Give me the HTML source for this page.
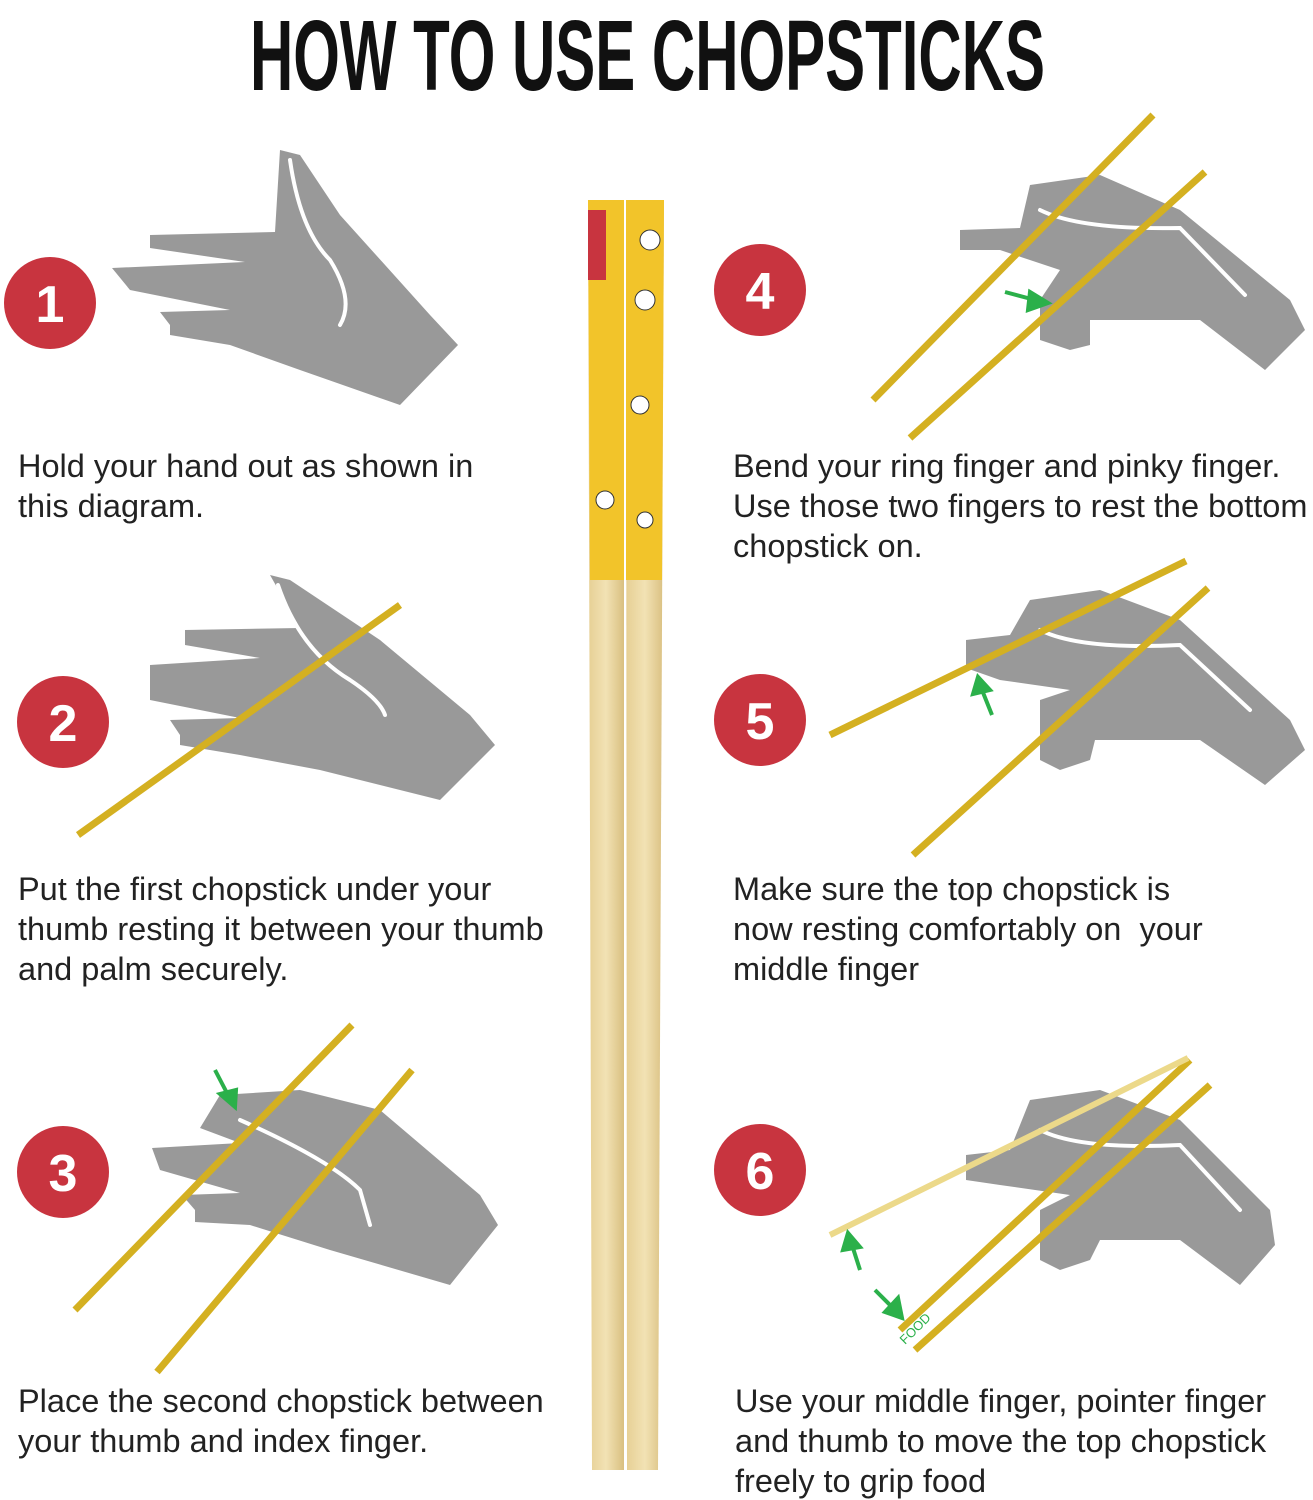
<!DOCTYPE html>
<html><head><meta charset="utf-8"><style>
body{margin:0;background:#fff;}
.w{position:relative;width:1313px;height:1500px;overflow:hidden;font-family:"Liberation Sans",sans-serif;}
.t{position:absolute;font-size:32.5px;line-height:40px;color:#222;white-space:nowrap;}
</style></head><body><div class="w">
<svg width="1313" height="1500" style="position:absolute;left:0;top:0">
<defs>
<linearGradient id="bam" x1="0" x2="1"><stop offset="0" stop-color="#e6cf94"/><stop offset="0.5" stop-color="#f2e2b4"/><stop offset="1" stop-color="#d9bf80"/></linearGradient>
</defs>
<text x="250" y="90" textLength="795" lengthAdjust="spacingAndGlyphs" font-family="Liberation Sans" font-weight="bold" font-size="100" fill="#111">HOW TO USE CHOPSTICKS</text>
<polygon points="588,200 624,200 624,1470 592,1470" fill="url(#bam)"/>
<polygon points="626,200 664,200 658,1470 627,1470" fill="url(#bam)"/>
<polygon points="588,200 624,200 624,580 590,580" fill="#f2c42a"/>
<polygon points="626,200 664,200 662,580 626,580" fill="#f2c42a"/>
<rect x="588" y="210" width="18" height="70" fill="#c8343f"/>
<circle cx="650" cy="240" r="10" fill="#fff" stroke="#333"/>
<circle cx="645" cy="300" r="10" fill="#fff" stroke="#333"/>
<circle cx="640" cy="405" r="9" fill="#fff" stroke="#333"/>
<circle cx="605" cy="500" r="9" fill="#fff" stroke="#333"/>
<circle cx="645" cy="520" r="8" fill="#fff" stroke="#333"/>
<g fill="#999">
<path d="M112,268 L245,262 L150,248 L150,235 L275,232 L280,150 L300,155 L340,215 L430,315 L458,345 L400,405 L300,370 L230,345 L170,335 L170,325 L160,312 L230,310 L130,290 Z"/>
<path d="M150,665 L260,658 L185,645 L185,630 L300,628 L270,575 L290,580 L380,640 L470,715 L495,745 L440,800 L320,770 L240,755 L180,745 L180,735 L170,720 L240,718 L150,700 Z"/>
<path d="M152,1148 L240,1143 L200,1128 L220,1095 L300,1090 L380,1110 L480,1195 L498,1225 L450,1285 L330,1250 L250,1225 L195,1222 L195,1210 L182,1195 L240,1193 L160,1170 Z"/>
<path d="M960,230 L1020,228 L1030,185 L1100,175 L1180,210 L1290,300 L1305,330 L1265,370 L1200,320 L1090,320 L1090,345 L1070,350 L1040,340 L1040,300 L1060,270 L1000,250 L960,250 Z"/>
<path d="M966,640 L1010,635 L1030,600 L1100,590 L1180,620 L1290,720 L1305,750 L1265,785 L1200,740 L1095,740 L1090,760 L1060,770 L1040,760 L1040,700 L1070,690 L1000,680 L966,668 Z"/>
<path d="M966,1155 L1010,1150 L1030,1100 L1100,1090 L1180,1120 L1270,1210 L1275,1245 L1240,1285 L1180,1240 L1100,1240 L1090,1260 L1060,1270 L1040,1260 L1040,1210 L1070,1195 L1000,1185 L966,1180 Z"/>
</g>
<g fill="none" stroke="#fff" stroke-width="4" stroke-linecap="round">
<path d="M290,160 Q300,230 330,260 Q355,300 340,325"/>
<path d="M278,585 Q300,650 350,680 Q380,700 385,715"/>
<path d="M240,1120 Q330,1160 360,1190 L370,1225"/>
<path d="M1040,210 Q1080,230 1180,228 L1245,295"/>
<path d="M1040,630 Q1080,650 1180,645 L1250,710"/>
<path d="M1040,1130 Q1080,1150 1180,1145 L1240,1210"/>
</g>
<g stroke="#d4b021" stroke-width="7" stroke-linecap="butt">
<line x1="400" y1="605" x2="78" y2="835"/>
<line x1="352" y1="1025" x2="75" y2="1310"/>
<line x1="412" y1="1070" x2="157" y2="1372"/>
<line x1="1153" y1="115" x2="873" y2="400"/>
<line x1="1205" y1="172" x2="910" y2="438"/>
<line x1="1186" y1="561" x2="830" y2="735"/>
<line x1="1208" y1="588" x2="913" y2="855"/>
<line x1="1190" y1="1060" x2="900" y2="1330"/>
<line x1="1210" y1="1085" x2="915" y2="1350"/>
</g>
<line x1="1188" y1="1058" x2="830" y2="1235" stroke="#ecd98a" stroke-width="6"/>
<g stroke="#2bb04a" stroke-width="4" fill="#2bb04a">
<line x1="1005" y1="292" x2="1035" y2="300"/><polygon points="1048,303 1030,292 1028,310"/>
<line x1="992" y1="715" x2="982" y2="690"/><polygon points="978,677 973,694 990,690"/>
<line x1="215" y1="1070" x2="228" y2="1095"/><polygon points="235,1107 220,1094 236,1090"/>
<line x1="860" y1="1270" x2="852" y2="1245"/><polygon points="848,1233 843,1250 860,1247"/>
<line x1="875" y1="1290" x2="893" y2="1308"/><polygon points="902,1318 885,1312 898,1298"/>
</g>
<text x="905" y="1345" transform="rotate(-45 905 1345)" fill="#2bb04a" font-size="13" font-family="Liberation Sans">FOOD</text>
<g fill="#c8343f">
<circle cx="50" cy="303" r="46"/><circle cx="63" cy="722" r="46"/><circle cx="63" cy="1172" r="46"/>
<circle cx="760" cy="290" r="46"/><circle cx="760" cy="720" r="46"/><circle cx="760" cy="1170" r="46"/>
</g>
<g fill="#fff" font-family="Liberation Sans" font-weight="bold" font-size="52" text-anchor="middle">
<text x="50" y="322">1</text><text x="63" y="741">2</text><text x="63" y="1191">3</text>
<text x="760" y="309">4</text><text x="760" y="739">5</text><text x="760" y="1189">6</text>
</g>
</svg>
<div class="t" style="left:18px;top:446px">Hold your hand out as shown in<br>this diagram.</div>
<div class="t" style="left:18px;top:869px">Put the first chopstick under your<br>thumb resting it between your thumb<br>and palm securely.</div>
<div class="t" style="left:18px;top:1381px">Place the second chopstick between<br>your thumb and index finger.</div>
<div class="t" style="left:733px;top:446px">Bend your ring finger and pinky finger.<br>Use those two fingers to rest the bottom<br>chopstick on.</div>
<div class="t" style="left:733px;top:869px">Make sure the top chopstick is<br>now resting comfortably on&nbsp; your<br>middle finger</div>
<div class="t" style="left:735px;top:1381px">Use your middle finger, pointer finger<br>and thumb to move the top chopstick<br>freely to grip food</div>
</div></body></html>
